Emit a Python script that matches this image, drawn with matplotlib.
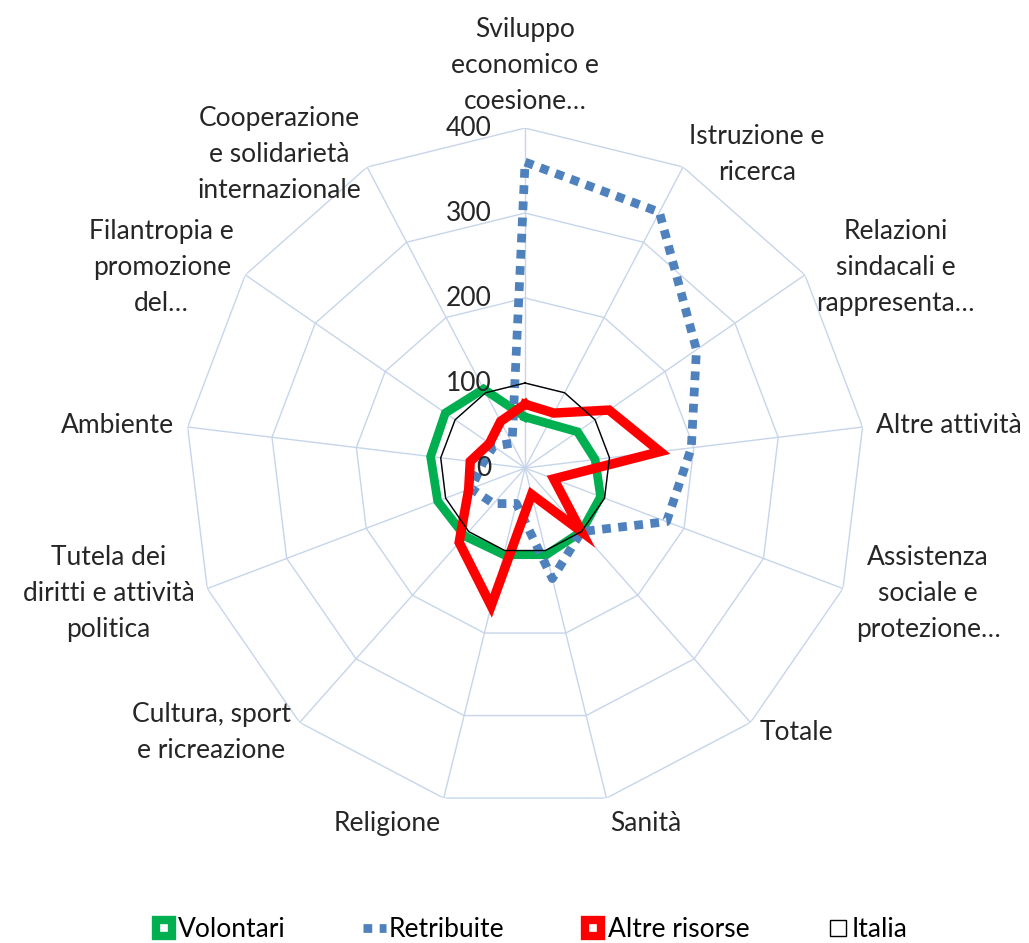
import numpy as np
import matplotlib as mpl
import matplotlib.pyplot as plt
from matplotlib.lines import Line2D

mpl.rcParams.update({"font.family": ["Lato", "DejaVu Sans"], "font.size": 19})
INK = "#262626"
GRID = "#c7d5ea"

categories = ["Sviluppo\neconomico e\ncoesione…", "Istruzione e\nricerca",
              "Relazioni\nsindacali e\nrappresenta…", "Altre attività",
              "Assistenza\nsociale e\nprotezione…", "Totale", "Sanità", "Religione",
              "Cultura, sport\ne ricreazione", "Tutela dei\ndiritti e attività\npolitica",
              "Ambiente", "Filantropia e\npromozione\ndel…",
              "Cooperazione\ne solidarietà\ninternazionale"]
volontari = [60, 59, 75, 83, 95, 100, 105, 105, 107, 110, 112, 114, 105]
retribuite = [360, 340, 245, 197, 178, 100, 134, 43, 56, 68, 50, 45, 33]
altre_risorse = [75, 73, 120, 160, 36, 100, 32, 167, 117, 71, 65, 51, 62]
italia = [100] * 13
rticks = [0, 100, 200, 300, 400]

n = len(categories)
theta = np.linspace(0, 2 * np.pi, n, endpoint=False)
tc = np.append(theta, theta[0])
close = lambda v: np.append(v, v[0])

fig = plt.figure(figsize=(10.29, 9.43), dpi=100)
ax = fig.add_axes([0.1798, 0.1432, 0.661, 0.721], projection="polar")
ax.set_theta_offset(np.pi / 2)
ax.set_theta_direction(-1)
ax.set_ylim(0, 400)
ax.set_xticks([]); ax.set_yticks([])
ax.grid(False)
ax.spines["polar"].set_visible(False)

# spider web grid
for r in rticks[1:]:
    ax.plot(tc, [r] * (n + 1), color=GRID, lw=1, zorder=1)
for t in theta:
    ax.plot([t, t], [0, 400], color=GRID, lw=1, zorder=1)

ax.plot(tc, close(volontari), color="#00b050", lw=6.3, solid_joinstyle="miter", zorder=3)
ax.plot(tc, close(retribuite), color="#4f81bd", lw=6.3, ls=(0, (1, 0.85)),
        dash_capstyle="butt", zorder=4)
ax.plot(tc, close(altre_risorse), color="#ff0000", lw=6.8, solid_joinstyle="miter", zorder=5)
ax.plot(tc, close(italia), color="black", lw=1, zorder=6)

for v in rticks:
    ax.annotate(str(v), xy=(0, v), xytext=(-24, 0), textcoords="offset points",
                ha="right", va="center", color=INK, zorder=7)

for t, lab in zip(theta, categories):
    sx, cy = np.sin(t), np.cos(t)
    ha = "left" if sx > 0.1 else ("right" if sx < -0.1 else "center")
    va = "bottom" if cy > 0.9 else ("top" if cy < -0.9 else "center")
    ax.text(t, 416, lab, ha=ha, va=va, multialignment="center", color=INK,
            linespacing=1.55)

handles = [
    Line2D([], [], ls="none", marker="s", ms=11, mfc="white", mec="#00b050", mew=6),
    Line2D([], [], color="#4f81bd", lw=6.3, ls=(0, (1, 0.85)), dash_capstyle="butt"),
    Line2D([], [], ls="none", marker="s", ms=11, mfc="white", mec="#ff0000", mew=6),
    Line2D([], [], ls="none", marker="s", ms=12, mfc="white", mec="black", mew=1),
]
fig.legend(handles, ["Volontari", "Retribuite", "Altre risorse", "Italia"],
           loc="center", bbox_to_anchor=(0.515, 0.014), ncol=4, frameon=False,
           handlelength=0.9, handletextpad=0.1, columnspacing=2.9)

fig.savefig("out.png", dpi=100, facecolor="white")
